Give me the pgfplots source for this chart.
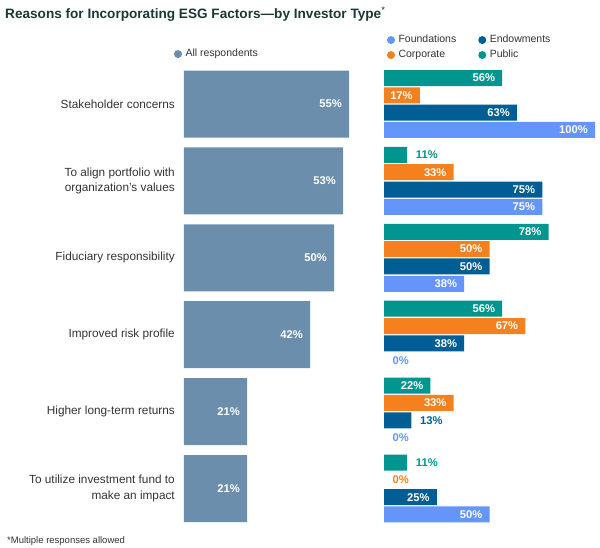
\documentclass[border=0pt]{standalone}
\usepackage{pgfplots}
\pgfplotsset{compat=1.18}
\usepackage{pgfplotstable}
\usepackage{fontspec}
\setmainfont{Liberation Sans}
\definecolor{allc}{RGB}{107,142,173}
\definecolor{foundc}{RGB}{99,149,250}
\definecolor{endowc}{RGB}{0,94,148}
\definecolor{corpc}{RGB}{244,129,29}
\definecolor{pubc}{RGB}{0,150,143}
\definecolor{titlec}{RGB}{28,56,52}
\definecolor{txtc}{RGB}{51,51,51}

\pgfplotstableread{
all found endow corp pub
55 100 63 17 56
53 75 75 33 11
50 38 50 50 78
42 0 38 67 56
21 0 13 33 22
21 50 25 0 11
}\data

\pgfplotsset{
  circleleg/.style={legend image code/.code={\fill[##1] (4pt,0pt) circle (4pt);}},
  legstyle/.style={draw=none, fill=none, inner sep=0pt, outer sep=0pt,
    font=\fontsize{10.5}{12}\selectfont, text=txtc,
    nodes={inner sep=0pt, text height=8pt, text depth=2.5pt},
    row sep=4.5pt,
    /tikz/every odd column/.append style={column sep=3.5pt},
    /tikz/every even column/.append style={column sep=22pt}},
}

% inside labels (white) and outside labels (coloured)
\newcommand{\lblin}[2]{%
\addplot[forget plot, draw=none, mark=none, restrict x to domain=15:1000,
  point meta=x,
  nodes near coords={\pgfmathprintnumber{\pgfplotspointmeta}\%},
  nodes near coords style={anchor=east, xshift=-7pt, inner sep=0pt, text=white,
    font=\bfseries\fontsize{11.2}{13}\selectfont}]
  table[x=#1, y expr=\coordindex+#2]{\data};}
\newcommand{\lblout}[3]{%
\addplot[forget plot, draw=none, mark=none, restrict x to domain=-1:14.9,
  point meta=x,
  nodes near coords={\pgfmathprintnumber{\pgfplotspointmeta}\%},
  nodes near coords style={anchor=west, xshift=8.5pt, inner sep=0pt, text=#3,
    font=\bfseries\fontsize{11.2}{13}\selectfont}]
  table[x=#1, y expr=\coordindex+#2]{\data};}

\begin{document}
\begin{tikzpicture}
\path[use as bounding box] (0,0) rectangle (600pt,-548pt);

\node[anchor=base west, inner sep=0pt, text=titlec,
  font=\bfseries\fontsize{13.6}{16}\selectfont] at (5pt,-19pt)
  {Reasons for Incorporating ESG Factors—by Investor Type{\mdseries\textsuperscript{*}}};

\node[anchor=base west, inner sep=0pt, text=txtc,
  font=\fontsize{9.5}{11}\selectfont] at (7pt,-543pt) {*Multiple responses allowed};

% ---------- left panel: all respondents ----------
\begin{axis}[
  at={(184pt,-104pt)}, anchor=origin,
  x=3pt, y=76.9pt, y dir=reverse,
  xmin=0, xmax=55, ymin=-0.5, ymax=5.5,
  clip=false,
  axis line style={draw=none},
  major tick length=0pt,
  xtick=\empty,
  ytick={0,1,2,3,4,5},
  yticklabels={Stakeholder concerns,
    {To align portfolio with\\organization's values},
    Fiduciary responsibility,
    Improved risk profile,
    Higher long-term returns,
    {To utilize investment fund to\\make an impact}},
  yticklabel style={align=right, font=\fontsize{11.8}{15.5}\selectfont,
    text=txtc, inner sep=0pt, xshift=-9pt},
  /pgf/number format/assume math mode=true,
  legend style={legstyle, at={(-0.0606,1.0249)}, anchor=west},
  legend cell align=left,
]
\addplot[xbar, bar width=67pt, bar shift=0pt, fill=allc, draw=none, circleleg]
  table[x=all, y expr=\coordindex]{\data};
\addlegendentry{All respondents}
\lblin{all}{0}
\end{axis}

% ---------- right panel: by investor type ----------
\begin{axis}[
  at={(384pt,-104pt)}, anchor=origin,
  x=2.11pt, y=76.9pt, y dir=reverse,
  xmin=0, xmax=100, ymin=-0.5, ymax=5.5,
  clip=false,
  axis line style={draw=none},
  major tick length=0pt,
  xtick=\empty, ytick=\empty,
  /pgf/number format/assume math mode=true,
  legend style={legstyle, at={(0.0142,1.039)}, anchor=west},
  legend columns=2,
  legend cell align=left,
]
\addplot[xbar, bar width=16pt, bar shift=0pt, fill=foundc, draw=none, circleleg,
  restrict x to domain=0.5:1000]
  table[x=found, y expr=\coordindex+0.338]{\data};
\addlegendentry{Foundations}
\addplot[xbar, bar width=16pt, bar shift=0pt, fill=endowc, draw=none, circleleg,
  restrict x to domain=0.5:1000]
  table[x=endow, y expr=\coordindex+0.113]{\data};
\addlegendentry{Endowments}
\addplot[xbar, bar width=16pt, bar shift=0pt, fill=corpc, draw=none, circleleg,
  restrict x to domain=0.5:1000]
  table[x=corp, y expr=\coordindex-0.113]{\data};
\addlegendentry{Corporate}
\addplot[xbar, bar width=16pt, bar shift=0pt, fill=pubc, draw=none, circleleg,
  restrict x to domain=0.5:1000]
  table[x=pub, y expr=\coordindex-0.338]{\data};
\addlegendentry{Public}

\lblin{found}{0.338}
\lblin{endow}{0.113}
\lblin{corp}{-0.113}
\lblin{pub}{-0.338}
\lblout{found}{0.338}{foundc}
\lblout{endow}{0.113}{endowc}
\lblout{corp}{-0.113}{corpc}
\lblout{pub}{-0.338}{pubc}
\end{axis}
\end{tikzpicture}
\end{document}
